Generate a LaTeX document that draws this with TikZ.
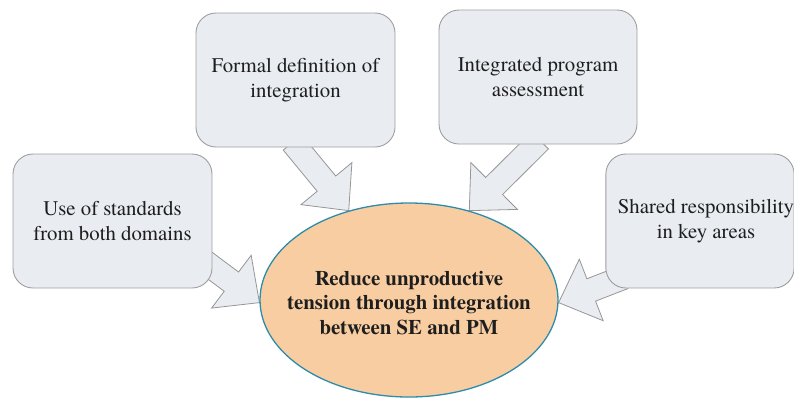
\documentclass[tikz,border=0pt]{standalone}
\usepackage{fontspec}
\newfontfamily\timesfont{texgyretermes}[Extension=.otf, UprightFont=*-regular, BoldFont=*-bold]
\usetikzlibrary{shapes.geometric,calc,backgrounds}
\definecolor{boxfill}{RGB}{233,236,241}
\definecolor{boxline}{RGB}{158,158,158}
\definecolor{arrline}{RGB}{150,150,150}
\definecolor{goalfill}{RGB}{248,205,162}
\definecolor{goalline}{RGB}{45,140,170}
\definecolor{txt}{RGB}{30,30,30}
\newcommand{\blockarrow}[2]{%
  \coordinate (ba-base) at ($(#2)!35pt!(#1)$);
  \draw[arrowstyle] ($(#1)!12pt!90:(#2)$) -- ($(ba-base)!12pt!90:(#2)$)
    -- ($(ba-base)!33pt!90:(#2)$) -- (#2) -- ($(ba-base)!33pt!-90:(#2)$)
    -- ($(ba-base)!12pt!-90:(#2)$) -- ($(#1)!12pt!-90:(#2)$) -- cycle;}
\begin{document}
\begin{tikzpicture}[x=1pt,y=-1pt,
  every node/.style={font=\timesfont\fontsize{20.8}{25.5}\selectfont, text=txt},
  ideabox/.style={draw=boxline, line width=0.9pt, fill=boxfill, rounded corners=20pt,
    minimum height=134pt, inner sep=0pt, align=center},
  goalshape/.style={ellipse, draw=goalline, line width=1.3pt, fill=goalfill,
    minimum width=298pt, minimum height=194pt, inner sep=0pt},
  arrowstyle/.style={draw=arrline, line width=0.8pt, fill=boxfill, line join=miter}]
\useasboundingbox (0,0) rectangle (794,400);
\node[ideabox, minimum width=199pt] (fd) at (295.5,80) {Formal definition of\\integration};
\node[ideabox, minimum width=198pt] (ipa) at (538,77) {Integrated program\\assessment};
\node[ideabox, minimum width=199pt] (uos) at (112.5,221) {Use of standards\\from both domains};
\node[ideabox, minimum width=186pt] (sr) at (700,221) {\hspace*{12pt}Shared responsibility\\\hspace*{12pt}in key areas};
\node[goalshape] (goal) at (409,300) {};
\node[align=center, font=\timesfont\bfseries\fontsize{20.8}{24.5}\selectfont] (goaltext) at (409,303)
  {Reduce unproductive\\tension through integration\\between SE and PM};
\begin{pgfonlayer}{background}
  \coordinate (a1s) at ($(fd.south)+(-3,-5)$);
  \coordinate (a1e) at (goal.124);
  \coordinate (a2s) at ($(ipa.south)+(2,-4)$);
  \coordinate (a2e) at (goal.56);
  \coordinate (a3s) at ($(uos.east)+(-10,39)$);
  \coordinate (a3e) at (goal.181);
  \coordinate (a4s) at ($(sr.south west)+(18,-11)$);
  \coordinate (a4e) at (goal.-1);
  \blockarrow{a1s}{a1e}
  \blockarrow{a2s}{a2e}
  \blockarrow{a3s}{a3e}
  \blockarrow{a4s}{a4e}
\end{pgfonlayer}
\end{tikzpicture}
\end{document}
